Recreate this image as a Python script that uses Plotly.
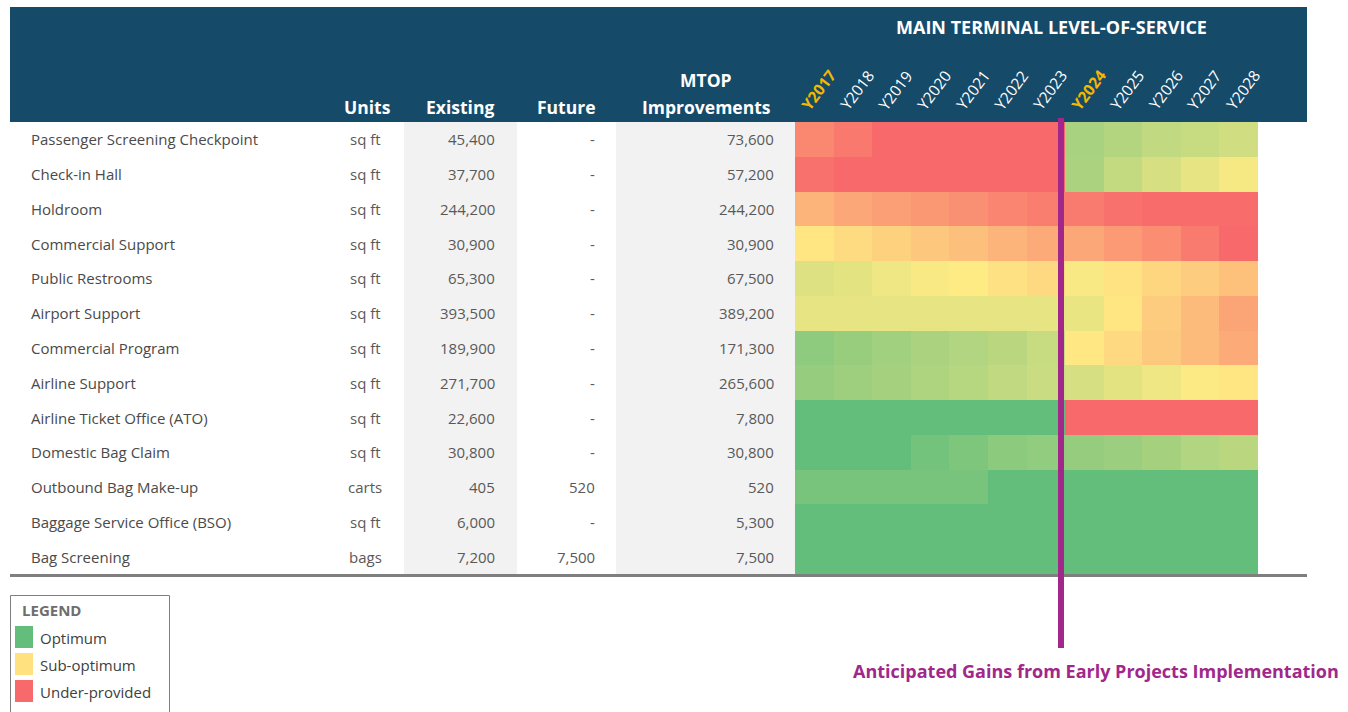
import plotly.graph_objects as go

W, H = 1348, 712

facilities = ["Passenger Screening Checkpoint", "Check-in Hall", "Holdroom", "Commercial Support",
              "Public Restrooms", "Airport Support", "Commercial Program", "Airline Support",
              "Airline Ticket Office (ATO)", "Domestic Bag Claim", "Outbound Bag Make-up",
              "Baggage Service Office (BSO)", "Bag Screening"]
units = ["sq ft", "sq ft", "sq ft", "sq ft", "sq ft", "sq ft", "sq ft", "sq ft", "sq ft", "sq ft",
         "carts", "sq ft", "bags"]
existing = ["45,400", "37,700", "244,200", "30,900", "65,300", "393,500", "189,900", "271,700",
            "22,600", "30,800", "405", "6,000", "7,200"]
future = ["-", "-", "-", "-", "-", "-", "-", "-", "-", "-", "520", "-", "7,500"]
mtop = ["73,600", "57,200", "244,200", "30,900", "67,500", "389,200", "171,300", "265,600",
        "7,800", "30,800", "520", "5,300", "7,500"]
years = ["Y2017", "Y2018", "Y2019", "Y2020", "Y2021", "Y2022", "Y2023",
         "Y2024", "Y2025", "Y2026", "Y2027", "Y2028"]
highlight_years = ["Y2017", "Y2024"]

# level-of-service index: 0 = optimum (green), 0.5 = sub-optimum (yellow), 1 = under-provided (red)
los = [
    [0.88, 0.94, 1.00, 1.00, 1.00, 1.00, 1.00, 0.22, 0.26, 0.30, 0.32, 0.35],
    [0.97, 1.00, 1.00, 1.00, 1.00, 1.00, 1.00, 0.23, 0.31, 0.37, 0.42, 0.47],
    [0.71, 0.76, 0.79, 0.82, 0.85, 0.89, 0.92, 0.93, 0.97, 0.99, 0.99, 0.99],
    [0.52, 0.56, 0.60, 0.64, 0.67, 0.71, 0.75, 0.76, 0.81, 0.86, 0.93, 1.00],
    [0.39, 0.41, 0.45, 0.48, 0.50, 0.54, 0.57, 0.48, 0.53, 0.58, 0.62, 0.66],
    [0.42, 0.42, 0.42, 0.42, 0.42, 0.42, 0.42, 0.43, 0.52, 0.62, 0.69, 0.77],
    [0.14, 0.17, 0.20, 0.23, 0.25, 0.28, 0.32, 0.51, 0.57, 0.63, 0.69, 0.75],
    [0.16, 0.19, 0.21, 0.24, 0.27, 0.30, 0.33, 0.37, 0.41, 0.45, 0.49, 0.52],
    [0.00, 0.00, 0.00, 0.00, 0.00, 0.00, 0.00, 1.00, 1.00, 1.00, 1.00, 1.00],
    [0.00, 0.00, 0.00, 0.05, 0.09, 0.13, 0.15, 0.16, 0.18, 0.21, 0.25, 0.28],
    [0.07, 0.07, 0.07, 0.07, 0.07, 0.00, 0.00, 0.00, 0.00, 0.00, 0.00, 0.00],
    [0.00, 0.00, 0.00, 0.00, 0.00, 0.00, 0.00, 0.00, 0.00, 0.00, 0.00, 0.00],
    [0.00, 0.00, 0.00, 0.00, 0.00, 0.00, 0.00, 0.00, 0.00, 0.00, 0.00, 0.00],
]
legend_items = ["Optimum", "Sub-optimum", "Under-provided"]

GREEN, YELLOW, RED = "#63BE7B", "#FFEB84", "#F8696B"
NAVY = "#164A69"
PURPLE = "#A1278B"
FONT = "Open Sans"


def X(px):
    return px / W


def Y(py):
    return 1 - py / H


TOP, BOT = 122, 574

fig = go.Figure()
fig.add_trace(go.Heatmap(
    z=los, x=list(range(len(years))), y=list(range(len(facilities))),
    colorscale=[[0, GREEN], [0.5, YELLOW], [1, RED]], zmin=0, zmax=1,
    showscale=False, hoverinfo="skip",
))

shapes = []
# header band
shapes.append(dict(type="rect", xref="paper", yref="paper", x0=X(10), x1=X(1307), y0=Y(122), y1=Y(7),
                   fillcolor=NAVY, line=dict(width=0), layer="below"))
# gray columns
for a, b in [(404, 517), (616, 795)]:
    shapes.append(dict(type="rect", xref="paper", yref="paper", x0=X(a), x1=X(b), y0=Y(BOT), y1=Y(TOP),
                       fillcolor="#F2F2F2", line=dict(width=0), layer="below"))
# bottom rule
shapes.append(dict(type="line", xref="paper", yref="paper", x0=X(10), x1=X(1307), y0=Y(575.5), y1=Y(575.5),
                   line=dict(color="#7F7F7F", width=3)))
# purple divider
shapes.append(dict(type="line", xref="paper", yref="paper", x0=X(1061), x1=X(1061), y0=Y(648), y1=Y(118),
                   line=dict(color=PURPLE, width=6)))
# legend box
shapes.append(dict(type="rect", xref="paper", yref="paper", x0=X(10.5), x1=X(169.5), y0=Y(720), y1=Y(595.5),
                   fillcolor="white", line=dict(color="#7F7F7F", width=1)))
for i, c in enumerate([GREEN, "#FFE17F", RED]):
    yc = 637 + i * 27
    shapes.append(dict(type="rect", xref="paper", yref="paper", x0=X(15), x1=X(33), y0=Y(yc + 11), y1=Y(yc - 11),
                       fillcolor=c, line=dict(width=0)))

ann = []
hdr = dict(color="white", family=FONT, size=17.5)
ann.append(dict(text="<b>MAIN TERMINAL LEVEL-OF-SERVICE</b>", x=X(1051), y=Y(27), xref="paper", yref="paper",
                showarrow=False, font=dict(color="white", family=FONT, size=18), xanchor="center", yanchor="middle"))
for txt, xc in [("Units", 367), ("Existing", 460), ("Future", 566)]:
    ann.append(dict(text=f"<b>{txt}</b>", x=X(xc), y=Y(107), xref="paper", yref="paper", showarrow=False,
                    font=hdr, xanchor="center", yanchor="middle"))
ann.append(dict(text="<b>MTOP</b>", x=X(706), y=Y(80), xref="paper", yref="paper", showarrow=False,
                font=hdr, xanchor="center", yanchor="middle"))
ann.append(dict(text="<b>Improvements</b>", x=X(706), y=Y(107), xref="paper", yref="paper", showarrow=False,
                font=hdr, xanchor="center", yanchor="middle"))
for i, yr in enumerate(years):
    hl = yr in highlight_years
    ann.append(dict(text=f"<b>{yr}</b>" if hl else yr, x=i, xref="x", y=Y(90), yref="paper", showarrow=False,
                    textangle=-53, xshift=4, xanchor="center", yanchor="middle",
                    font=dict(color="#F5B700" if hl else "white", family=FONT, size=15.5)))

body = dict(family=FONT, size=15, color="#4A4A4A")
num = dict(family=FONT, size=15, color="#595959")
for r in range(len(facilities)):
    ann.append(dict(text=facilities[r], x=X(29), y=r, xref="paper", yref="y", showarrow=False,
                    xanchor="left", yanchor="middle", font=body))
    ann.append(dict(text=units[r], x=X(365), y=r, xref="paper", yref="y", showarrow=False,
                    xanchor="center", yanchor="middle", font=num))
    ann.append(dict(text=existing[r], x=X(497), y=r, xref="paper", yref="y", showarrow=False,
                    xanchor="right", yanchor="middle", font=num))
    ann.append(dict(text=future[r], x=X(597), y=r, xref="paper", yref="y", showarrow=False,
                    xanchor="right", yanchor="middle", font=num))
    ann.append(dict(text=mtop[r], x=X(776), y=r, xref="paper", yref="y", showarrow=False,
                    xanchor="right", yanchor="middle", font=num))

ann.append(dict(text="<b>LEGEND</b>", x=X(20), y=Y(610), xref="paper", yref="paper", showarrow=False,
                xanchor="left", yanchor="middle", font=dict(family=FONT, size=15, color="#6E6E6E")))
for i, t in enumerate(legend_items):
    ann.append(dict(text=t, x=X(38), y=Y(638 + i * 27), xref="paper", yref="paper", showarrow=False,
                    xanchor="left", yanchor="middle", font=dict(family=FONT, size=15, color="#404040")))
ann.append(dict(text="<b>Anticipated Gains from Early Projects Implementation</b>", x=X(1096), y=Y(671),
                xref="paper", yref="paper", showarrow=False, xanchor="center", yanchor="middle",
                font=dict(family=FONT, size=18, color=PURPLE)))

fig.update_layout(
    width=W, height=H, margin=dict(l=0, r=0, t=0, b=0),
    paper_bgcolor="white", plot_bgcolor="white",
    xaxis=dict(domain=[X(795), X(1258)], range=[-0.5, len(years) - 0.5], visible=False, fixedrange=True),
    yaxis=dict(domain=[Y(BOT), Y(TOP)], range=[len(facilities) - 0.5, -0.5], visible=False, fixedrange=True),
    shapes=shapes, annotations=ann, showlegend=False,
)
fig.write_html("out.html", config={"displayModeBar": False},
               post_script="document.body.style.margin='0px';document.body.style.overflow='hidden';")
